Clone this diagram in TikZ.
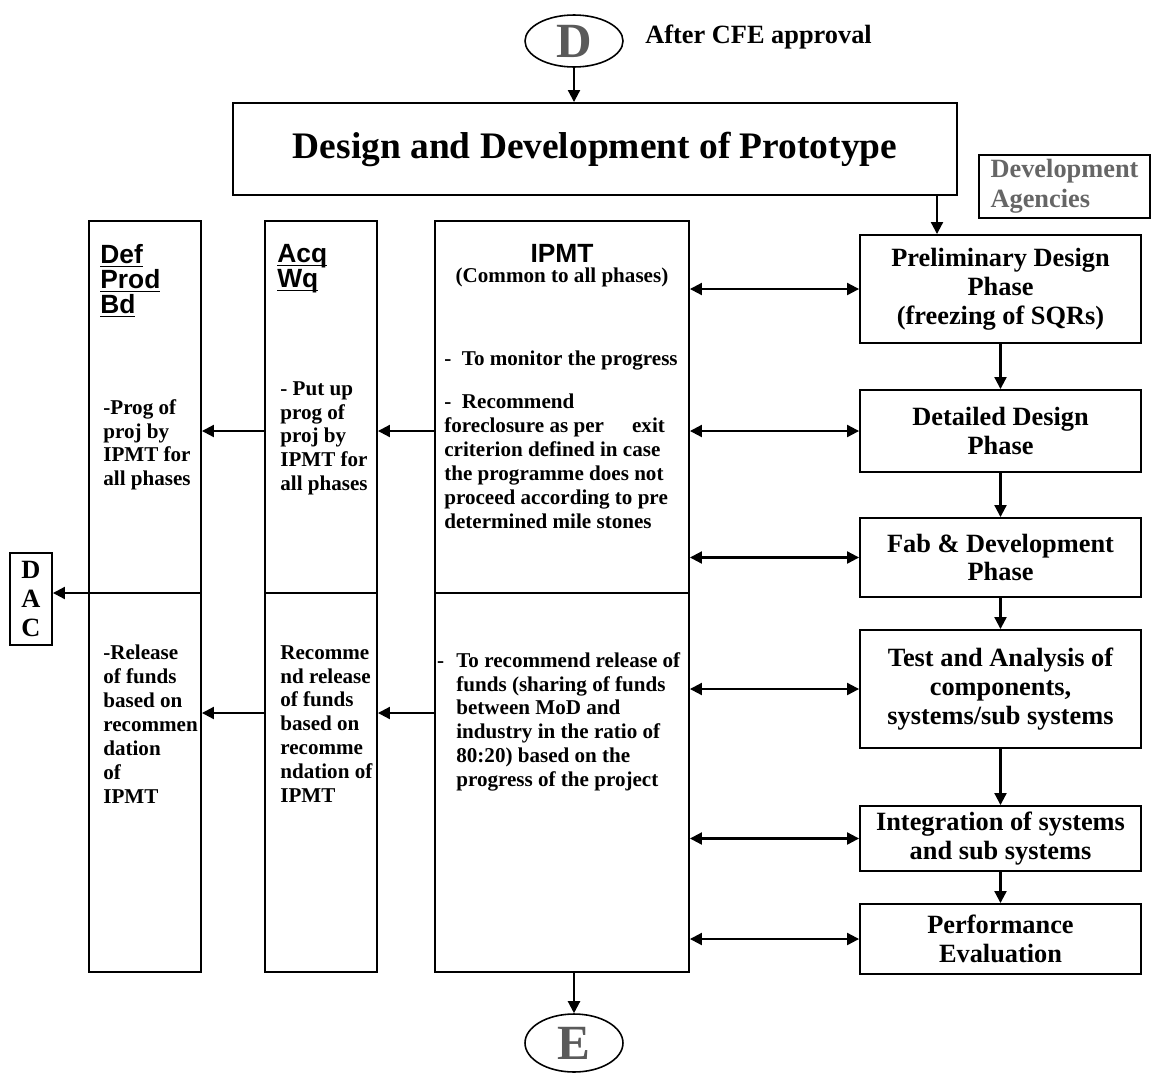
\documentclass[tikz,border=0pt]{standalone}
\usepackage{fontspec}
\setmainfont{Liberation Serif}
\setsansfont{Liberation Sans}
\usetikzlibrary{arrows.meta,shapes.geometric}
\definecolor{lettergray}{HTML}{5A5A5A}
\definecolor{agencygray}{HTML}{666666}
\tikzset{
  box/.style={draw,line width=1.1pt,inner sep=0pt},
  phase/.style={box,minimum width=5.62cm,align=center,font=\fontsize{15}{16.4}\selectfont\bfseries},
  column/.style={box,minimum width=2.24cm,minimum height=15.02cm},
  oval/.style={draw,ellipse,line width=0.9pt,inner sep=0pt,minimum width=1.96cm,text=lettergray,font=\fontsize{28}{30}\selectfont\bfseries},
  body/.style={anchor=north west,inner sep=0pt,align=left,font=\fontsize{12}{13.6}\selectfont\bfseries},
  head/.style={anchor=north west,inner sep=0pt,align=left,font=\fontsize{15}{14.2}\selectfont\sffamily\bfseries},
  divider/.style={line width=0.6pt},
  arr/.style={line width=1.2pt,-{Triangle[length=2.4mm,width=2.4mm]}},
  darr/.style={line width=1.2pt,{Triangle[length=2.4mm,width=2.4mm]}-{Triangle[length=2.4mm,width=2.4mm]}}
}
\begin{document}
\begin{tikzpicture}[x=0.02cm,y=-0.02cm]
  \useasboundingbox (0,0) rectangle (1153,1072);
  \node[oval,minimum height=1.04cm] (D) at (574,41) {D};
  \node[anchor=west,inner sep=0pt,font=\fontsize{15}{16}\selectfont\bfseries] (after) at (645,37) {After CFE approval};
  \node[box,minimum width=14.48cm,minimum height=1.84cm,font=\fontsize{21.3}{24}\selectfont\bfseries] (main) at (595,149) {Design and Development of Prototype};
  \node[box,minimum width=3.42cm,minimum height=1.26cm,align=left,text=agencygray,font=\fontsize{15}{17}\selectfont\bfseries] (agency) at (1064.5,186.5) {Development\\Agencies};

  \node[phase,minimum height=2.16cm] (p1) at (1000.5,289) {Preliminary Design\\Phase\\(freezing of SQRs)};
  \node[phase,minimum height=1.64cm] (p2) at (1000.5,431) {Detailed Design\\Phase};
  \node[phase,minimum height=1.58cm] (p3) at (1000.5,557.5) {Fab \& Development\\Phase};
  \node[phase,minimum height=2.36cm] (p4) at (1000.5,689) {Test and Analysis of\\components,\\systems/sub systems};
  \node[phase,minimum height=1.3cm] (p5) at (1000.5,838.5) {Integration of systems\\and sub systems};
  \node[phase,minimum height=1.4cm] (p6) at (1000.5,939) {Performance\\Evaluation};

  \node[column,minimum width=5.08cm] (ipmt) at (562,596.5) {};
  \node[column] (acq) at (321,596.5) {};
  \node[column] (def) at (145,596.5) {};
  \node[box,minimum width=0.84cm,minimum height=1.84cm,align=center,font=\fontsize{15}{16.4}\selectfont\bfseries] (dac) at (31,599) {D\\A\\C};
  \node[oval,minimum height=1.16cm] (E) at (574,1043) {E};

  \coordinate (mid) at (0,593);
  \coordinate (up) at (0,431);
  \coordinate (low) at (0,713);
  \coordinate (drop) at (937,0);

  \node[anchor=north,inner sep=0pt,font=\fontsize{15}{16}\selectfont\sffamily\bfseries] (ipmthead) at (562,244) {IPMT};
  \node[inner sep=0pt,font=\fontsize{12}{13}\selectfont\bfseries] (common) at (562,277) {(Common to all phases)};
  \node[body] (monitor) at (444,351) {-\ \ To monitor the progress};
  \node[body] (foreclose) at (444,394) {-\ \ Recommend\\foreclosure as per\hspace{16pt}exit\\criterion defined in case\\the programme does not\\proceed according to pre\\determined mile stones};
  \node[body] (release) at (456,652) {\llap{-\hspace{7pt}}To recommend release of\\funds (sharing of funds\\between MoD and\\industry in the ratio of\\80:20) based on the\\progress of the project};

  \node[head] (acqhead) at (277,244) {\underline{Ac\smash{q}}\\\underline{W\smash{q}}};
  \node[body] (putup) at (280,381) {- Put up\\prog of\\proj by\\IPMT for\\all phases};
  \node[body] (recomm) at (280,645) {Recomme\\nd release\\of funds\\based on\\recomme\\ndation of\\IPMT};

  \node[head] (defhead) at (100,244) {\underline{Def}\\\underline{Prod}\\\underline{Bd}};
  \node[body] (prog) at (103,399) {-Prog of\\proj by\\IPMT for\\all phases};
  \node[body] (funds) at (103,645) {-Release\\of funds\\based on\\recommen\\dation\\of\\IPMT};

  \draw[divider] (ipmt.west |- mid) -- (ipmt.east |- mid);
  \draw[divider] (acq.west |- mid) -- (acq.east |- mid);
  \draw[divider] (def.west |- mid) -- (def.east |- mid);

  \draw[arr] (D.south) -- (D.south |- main.north);
  \draw[arr] (drop |- main.south) -- (drop |- p1.north);
  \draw[arr] (p1.south) -- (p2.north);
  \draw[arr] (p2.south) -- (p3.north);
  \draw[arr] (p3.south) -- (p4.north);
  \draw[arr] (p4.south) -- (p5.north);
  \draw[arr] (p5.south) -- (p6.north);
  \draw[arr] (E.north |- ipmt.south) -- (E.north);

  \draw[darr] (ipmt.east |- p1.west) -- (p1.west);
  \draw[darr] (ipmt.east |- p2.west) -- (p2.west);
  \draw[darr] (ipmt.east |- p3.west) -- (p3.west);
  \draw[darr] (ipmt.east |- p4.west) -- (p4.west);
  \draw[darr] (ipmt.east |- p5.west) -- (p5.west);
  \draw[darr] (ipmt.east |- p6.west) -- (p6.west);

  \draw[arr] (ipmt.west |- up) -- (acq.east |- up);
  \draw[arr] (acq.west |- up) -- (def.east |- up);
  \draw[arr] (ipmt.west |- low) -- (acq.east |- low);
  \draw[arr] (acq.west |- low) -- (def.east |- low);
  \draw[arr] (def.west |- mid) -- (dac.east |- mid);
\end{tikzpicture}
\end{document}
